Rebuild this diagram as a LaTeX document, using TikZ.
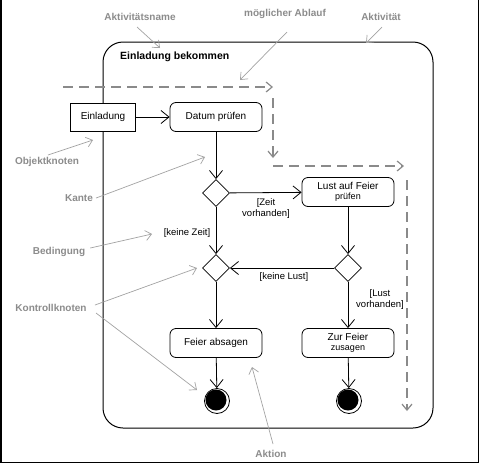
\documentclass[tikz,border=0pt]{standalone}
\usepackage{fontspec}
\setmainfont{Liberation Sans}
\usetikzlibrary{arrows.meta,shapes.geometric}
\definecolor{notegray}{HTML}{8C8C8C}
\definecolor{waygray}{HTML}{8A8A8A}
\tikzset{
  action/.style={draw, rounded corners=6pt, fill=white, minimum width=92pt, minimum height=29pt, align=center, inner sep=1pt, line width=0.8pt, font=\fontsize{10}{11}\selectfont},
  objbox/.style={draw, rectangle, fill=white, minimum width=65pt, minimum height=28pt, line width=0.8pt, font=\fontsize{10}{11}\selectfont},
  dec/.style={draw, diamond, fill=white, minimum width=27pt, minimum height=27pt, inner sep=0pt, line width=0.8pt},
  flow/.style={line width=0.8pt, -{Straight Barb[length=8pt,width=13pt,line width=0.8pt]}},
  guard/.style={font=\fontsize{9.5}{11}\selectfont, align=center, inner sep=0pt},
  note/.style={text=notegray, font=\bfseries\fontsize{10}{12}\selectfont, inner sep=0pt},
  notearrow/.style={draw=notegray!80, line width=0.7pt, -{Straight Barb[length=6pt,width=10pt,line width=0.7pt]}},
  way/.style={draw=waygray, line width=2pt, dash pattern=on 10pt off 6pt, -{Straight Barb[length=6pt,width=10pt,line width=1.2pt]}},
}
\begin{document}
\begin{tikzpicture}[x=1pt,y=-1pt]
\useasboundingbox (0,0) rectangle (480,464);
\fill[white] (0,0) rectangle (480,464);
% outer picture frame
\draw[line width=1.6pt] (1,0) -- (1,462.5) -- (478.5,462.5) -- (478.5,0);

% activity frame
\node[draw, rounded corners=20pt, line width=1pt, minimum width=330pt, minimum height=386pt, inner sep=0pt] (act) at (268,235) {};
\node[font=\bfseries\fontsize{10.5}{12}\selectfont, anchor=west, inner sep=0pt] (title) at (120,57) {Einladung bekommen};

% possible flow (dashed)
\coordinate (w1s) at (63,87);   \coordinate (w1e) at (273,87);
\coordinate (w2s) at (273,98);  \coordinate (w2e) at (273,158);
\coordinate (w3s) at (273,166); \coordinate (w3e) at (404,166);
\coordinate (w4s) at (407,180); \coordinate (w4e) at (407,411);
\draw[way] (w1s) -- (w1e);
\draw[way] (w2s) -- (w2e);
\draw[way] (w3s) -- (w3e);
\draw[way] (w4s) -- (w4e);

% nodes
\node[objbox] (einl) at (103,117) {Einladung};
\node[action] (datum) at (216,117) {Datum prüfen};
\node[dec] (d1) at (216,193) {};
\node[action] (lust) at (348,192) {Lust auf Feier\\[-1pt]{\fontsize{9}{10}\selectfont prüfen}};
\node[dec] (d2) at (216,268) {};
\node[dec] (d3) at (348,268) {};
\node[action] (absagen) at (216,343) {Feier absagen};
\node[action] (zusagen) at (348,343) {Zur Feier\\[-1pt]{\fontsize{9}{10}\selectfont zusagen}};
\node[draw, circle, minimum size=25pt, inner sep=0pt, line width=0.8pt] (f1) at (217,401) {};
\node[fill=black, circle, minimum size=21pt, inner sep=0pt] at (216,400) {};
\node[draw, circle, minimum size=25pt, inner sep=0pt, line width=0.8pt] (f2) at (349,401) {};
\node[fill=black, circle, minimum size=21pt, inner sep=0pt] at (348,400) {};

% edges
\draw[flow] (einl) -- (datum);
\draw[flow] (datum) -- (d1);
\draw[flow] (d1) -- (lust);
\draw[flow] (d1) -- (d2);
\draw[flow] (lust) -- (d3);
\draw[flow] (d3) -- (d2);
\draw[flow] (d2) -- (absagen);
\draw[flow] (d3) -- (zusagen);
\draw[flow] (absagen) -- (f1);
\draw[flow] (zusagen) -- (f2);

% guards
\node[guard] (g1) at (266,209) {[Zeit\\vorhanden]};
\node[guard] (g2) at (187,233) {[keine Zeit]};
\node[guard] (g3) at (284,277) {[keine Lust]};
\node[guard] (g4) at (380,300) {[Lust\\vorhanden]};

% annotations
\node[note] (n1) at (140,17) {Aktivitätsname};
\node[note] (n2) at (285,14) {möglicher Ablauf};
\node[note] (n3) at (381,17) {Aktivität};
\node[note] (n4) at (47,162) {Objektknoten};
\node[note] (n5) at (79,198) {Kante};
\node[note] (n6) at (59,252) {Bedingung};
\node[note] (n7) at (51,308) {Kontrollknoten};
\node[note] (n8) at (271,454) {Aktion};
\coordinate (t1) at (160,48);
\coordinate (t2) at (240,80);
\coordinate (t3) at (366,43);
\coordinate (t4) at (93,140);
\coordinate (t5) at (205,157);
\coordinate (t6) at (152,234);
\coordinate (t7a) at (197,268);
\coordinate (t7b) at (197,390);
\coordinate (t8) at (252,367);
\draw[notearrow] (137,27) -- (t1);
\draw[notearrow] (287,32) -- (t2);
\draw[notearrow] (382,27) -- (t3);
\draw[notearrow] (48,155) -- (t4);
\draw[notearrow] (n5.east) ++(3,0) -- (t5);
\draw[notearrow] (n6.east) ++(5,-4) -- (t6);
\draw[notearrow] (95,305) -- (t7a);
\draw[notearrow] (96,313) -- (t7b);
\draw[notearrow] (273,444) -- (t8);
\end{tikzpicture}
\end{document}
